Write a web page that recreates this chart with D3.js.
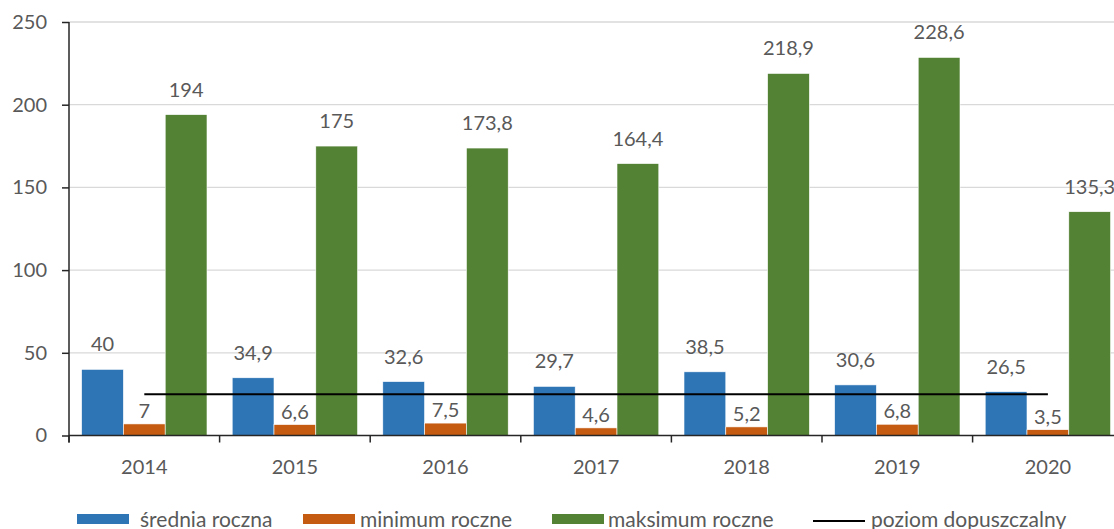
<!DOCTYPE html>
<html>
<head>
<meta charset="utf-8">
<script src="https://cdn.jsdelivr.net/npm/d3@7"></script>
<style>
  body { margin: 0; background: #fff; }
  text { font-family: Lato, "Open Sans", sans-serif; fill: #595959; }
</style>
</head>
<body>
<svg width="1114" height="529"></svg>
<script>
const years = ["2014", "2015", "2016", "2017", "2018", "2019", "2020"];
const srednia = [40, 34.9, 32.6, 29.7, 38.5, 30.6, 26.5];
const minimum = [7, 6.6, 7.5, 4.6, 5.2, 6.8, 3.5];
const maksimum = [194, 175, 173.8, 164.4, 218.9, 228.6, 135.3];
const poziom = 25;
const yTicks = [0, 50, 100, 150, 200, 250];

const series = [
  { name: "średnia roczna", values: srednia, color: "#2E75B6", gap: 18 },
  { name: "minimum roczne", values: minimum, color: "#C55A11", gap: 6 },
  { name: "maksimum roczne", values: maksimum, color: "#548235", gap: 18 }
];

const svg = d3.select("svg");
const mLeft = 69, mTop = 22, mBottom = 435.5;
const band = 150.6;

const x = d3.scaleBand().domain(years).range([mLeft, mLeft + band * years.length]);
const inner = d3.scaleBand().domain([0, 1, 2]).range([12.6, band - 12.6]);
const y = d3.scaleLinear().domain([0, 250]).range([mBottom, mTop]);
const fmt = v => String(v).replace(".", ",");

// gridlines
svg.append("g")
  .selectAll("line")
  .data(yTicks.slice(1))
  .enter()
  .append("line")
  .attr("x1", mLeft).attr("x2", 1114)
  .attr("y1", d => y(d)).attr("y2", d => y(d))
  .attr("stroke", "#d9d9d9").attr("stroke-width", 1.3);

// bars
series.forEach((s, si) => {
  svg.append("g")
    .selectAll("rect")
    .data(s.values)
    .enter()
    .append("rect")
    .attr("x", (d, i) => x(years[i]) + inner(si))
    .attr("width", inner.bandwidth())
    .attr("y", d => y(d))
    .attr("height", d => y(0) - y(d))
    .attr("fill", s.color)
    .attr("stroke", "#fff")
    .attr("stroke-width", 0.6);

  svg.append("g")
    .selectAll("text")
    .data(s.values)
    .enter()
    .append("text")
    .attr("x", (d, i) => x(years[i]) + inner(si) + inner.bandwidth() / 2)
    .attr("y", d => y(d) - s.gap)
    .attr("text-anchor", "middle")
    .attr("font-size", 20)
    .text(d => fmt(d));
});

// limit line
svg.append("line")
  .attr("x1", x(years[0]) + band / 2)
  .attr("x2", x(years[years.length - 1]) + band / 2)
  .attr("y1", y(poziom)).attr("y2", y(poziom))
  .attr("stroke", "#000").attr("stroke-width", 2);

// y axis
const yAxis = svg.append("g")
  .attr("transform", `translate(${mLeft},0)`)
  .call(d3.axisLeft(y).tickValues(yTicks).tickSize(7).tickPadding(15));
yAxis.select(".domain").attr("stroke", "#262626").attr("stroke-width", 1.5)
  .attr("d", `M0,${y(0) + 7}V${y(250)}`);
yAxis.selectAll(".tick line").attr("stroke", "#262626").attr("stroke-width", 1.5);
yAxis.selectAll(".tick text").attr("font-size", 20).attr("fill", "#595959")
  .style("font-family", "Lato, sans-serif");

// x axis
svg.append("line")
  .attr("x1", mLeft).attr("x2", 1114)
  .attr("y1", y(0)).attr("y2", y(0))
  .attr("stroke", "#262626").attr("stroke-width", 1.5);
svg.append("g")
  .selectAll("line")
  .data(d3.range(years.length + 1))
  .enter()
  .append("line")
  .attr("x1", i => mLeft + i * band).attr("x2", i => mLeft + i * band)
  .attr("y1", y(0)).attr("y2", y(0) + 7)
  .attr("stroke", "#262626").attr("stroke-width", 1.5);
svg.append("g")
  .selectAll("text")
  .data(years)
  .enter()
  .append("text")
  .attr("x", d => x(d) + band / 2)
  .attr("y", 474)
  .attr("text-anchor", "middle")
  .attr("font-size", 20)
  .text(d => d);

// legend
const legend = [
  { name: series[0].name, color: series[0].color, x: 77, tx: 140 },
  { name: series[1].name, color: series[1].color, x: 303, tx: 360 },
  { name: series[2].name, color: series[2].color, x: 552, tx: 608 }
];
legend.forEach(l => {
  svg.append("rect").attr("x", l.x).attr("y", 514).attr("width", 52).attr("height", 10).attr("fill", l.color);
  svg.append("text").attr("x", l.tx).attr("y", 527).attr("font-size", 21).text(l.name);
});
svg.append("line").attr("x1", 813).attr("x2", 865).attr("y1", 521).attr("y2", 521)
  .attr("stroke", "#000").attr("stroke-width", 2);
svg.append("text").attr("x", 871).attr("y", 527).attr("font-size", 21).text("poziom dopuszczalny");
</script>
</body>
</html>
